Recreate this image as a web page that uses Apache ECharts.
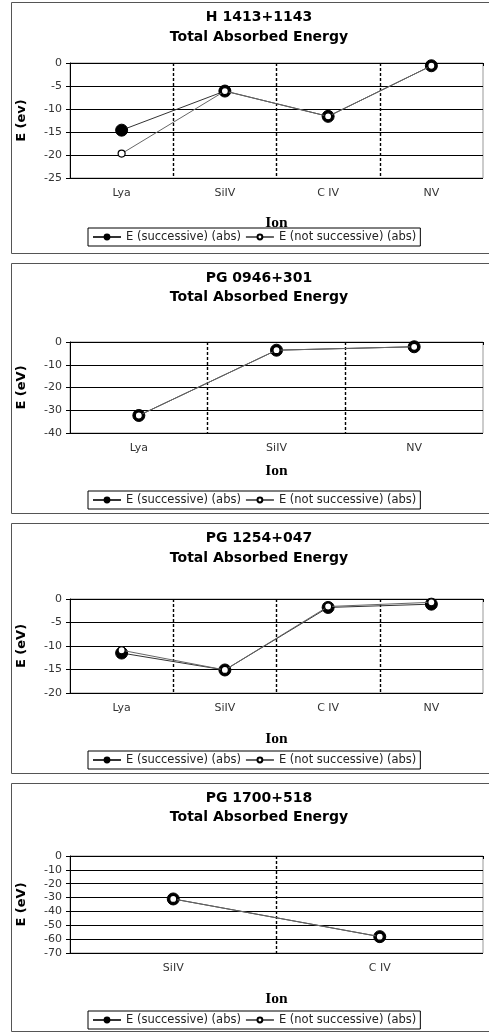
<!DOCTYPE html>
<html>
<head>
<meta charset="utf-8">
<script src="https://cdn.jsdelivr.net/npm/echarts@6/dist/echarts.min.js"></script>
<style>html,body{margin:0;padding:0;background:#fff;}#c{width:489px;height:1035px;}</style>
</head>
<body>
<div id="c"></div>
<script>
// ---- data ----
const seriesNames = ['E (successive) (abs)', 'E (not successive) (abs)'];

const title1 = 'H 1413+1143';
const ions1 = ['Lya', 'SiIV', 'C IV', 'NV'];
const succ1 = [-14.6, -6.1, -11.6, -0.6];
const notSucc1 = [-19.7, -6.1, -11.6, -0.6];
const yTicks1 = {min: -25, max: 0, interval: 5};

const title2 = 'PG 0946+301';
const ions2 = ['Lya', 'SiIV', 'NV'];
const succ2 = [-32.3, -3.6, -2.1];
const notSucc2 = [-32.3, -3.6, -2.1];
const yTicks2 = {min: -40, max: 0, interval: 10};

const title3 = 'PG 1254+047';
const ions3 = ['Lya', 'SiIV', 'C IV', 'NV'];
const succ3 = [-11.5, -15.1, -1.8, -1.1];
const notSucc3 = [-10.9, -15.1, -1.6, -0.7];
const yTicks3 = {min: -20, max: 0, interval: 5};

const title4 = 'PG 1700+518';
const ions4 = ['SiIV', 'C IV'];
const succ4 = [-31.0, -58.2];
const notSucc4 = [-31.0, -58.2];
const yTicks4 = {min: -70, max: 0, interval: 10};

const subTitle = 'Total Absorbed Energy';
const xName = 'Ion';
const yNames = ['E (ev)', 'E (eV)', 'E (eV)', 'E (eV)'];

// ---- layout ----
const panels = [
  {title: title1, cats: ions1, s: succ1, n: notSucc1, y: yTicks1, box: [2, 253], gridTop: 63, gridH: 115, t1: 17.5, t2: 37, legTop: 228, xGap: 37},
  {title: title2, cats: ions2, s: succ2, n: notSucc2, y: yTicks2, box: [263, 513], gridTop: 342, gridH: 91, t1: 278, t2: 297, legTop: 491, xGap: 30},
  {title: title3, cats: ions3, s: succ3, n: notSucc3, y: yTicks3, box: [523, 773], gridTop: 599, gridH: 94, t1: 538, t2: 558, legTop: 751, xGap: 38},
  {title: title4, cats: ions4, s: succ4, n: notSucc4, y: yTicks4, box: [783, 1031], gridTop: 856, gridH: 97, t1: 798, t2: 817, legTop: 1011, xGap: 38}
];

const FONT = 'DejaVu Sans';
const grids = [], xAxes = [], yAxes = [], series = [], legends = [], graphics = [];

panels.forEach((p, i) => {
  graphics.push({type: 'rect', z: -1, shape: {x: 11.5, y: p.box[0] + 0.5, width: 520, height: p.box[1] - p.box[0]},
    style: {fill: '#fff', stroke: '#555', lineWidth: 1}});
  graphics.push({type: 'text', x: 259, y: p.t1, style: {text: p.title, textAlign: 'center', textVerticalAlign: 'middle',
    font: 'bold 14px "' + FONT + '"', fill: '#000'}});
  graphics.push({type: 'text', x: 259, y: p.t2, style: {text: subTitle, textAlign: 'center', textVerticalAlign: 'middle',
    font: 'bold 14px "' + FONT + '"', fill: '#000'}});

  grids.push({left: 70, right: 6, top: p.gridTop, height: p.gridH, show: true, borderColor: '#999', borderWidth: 1, backgroundColor: 'transparent'});

  const nb = p.cats.length + 1;
  const vColors = [];
  for (let k = 0; k < nb; k++) vColors.push((k === nb - 1 || k === 0) ? 'rgba(0,0,0,0)' : '#000');
  xAxes.push({type: 'category', gridIndex: i, data: p.cats, boundaryGap: true,
    name: xName, nameLocation: 'middle', nameGap: p.xGap,
    nameTextStyle: {fontFamily: 'Liberation Serif', fontWeight: 'bold', fontSize: 15.5, color: '#000'},
    axisLine: {lineStyle: {color: '#000', width: 1}},
    axisTick: {show: true, length: 3, interval: 0, lineStyle: {color: '#000'}},
    axisLabel: {fontFamily: FONT, fontSize: 11, color: '#333', margin: 10, interval: 0},
    splitLine: {show: true, interval: 0, lineStyle: {color: vColors, type: [3, 2], width: 1.4}}
  });

  const nt = Math.round((p.y.max - p.y.min) / p.y.interval) + 1;
  const hColors = [];
  for (let k = 0; k < nt; k++) hColors.push(k === nt - 1 ? '#999' : '#000');
  yAxes.push({type: 'value', gridIndex: i, min: p.y.min, max: p.y.max, interval: p.y.interval,
    name: yNames[i], nameLocation: 'middle', nameGap: 42, nameRotate: 90,
    nameTextStyle: {fontFamily: FONT, fontWeight: 'bold', fontSize: 13, color: '#000'},
    axisLine: {show: true, lineStyle: {color: '#000', width: 1}},
    axisTick: {show: true, length: 4, lineStyle: {color: '#000'}},
    axisLabel: {fontFamily: FONT, fontSize: 11, color: '#333', margin: 8},
    splitLine: {show: true, lineStyle: {color: hColors, width: 1}}
  });

  series.push({name: seriesNames[0], type: 'line', xAxisIndex: i, yAxisIndex: i, data: p.s,
    symbol: 'circle', symbolSize: 12, z: 3,
    lineStyle: {color: '#333', width: 1},
    itemStyle: {color: '#000', borderColor: '#000', borderWidth: 1},
    emphasis: {disabled: true}, animation: false});
  series.push({name: seriesNames[1], type: 'line', xAxisIndex: i, yAxisIndex: i, data: p.n,
    symbol: 'circle', symbolSize: 7, z: 4,
    lineStyle: {color: '#666', width: 1},
    itemStyle: {color: '#fff', borderColor: '#000', borderWidth: 1.2},
    emphasis: {disabled: true}, animation: false});

  legends.push({data: seriesNames, left: 88, top: p.legTop, orient: 'horizontal',
    itemWidth: 28, itemHeight: 6, itemGap: 4, padding: [3, 4],
    borderColor: '#000', borderWidth: 1, backgroundColor: '#fff',
    selectedMode: false,
    textStyle: {fontFamily: FONT, fontSize: 11.5, color: '#222'}});
});

const chart = echarts.init(document.getElementById('c'), null, {renderer: 'canvas'});
chart.setOption({
  backgroundColor: '#fff',
  animation: false,
  graphic: graphics,
  grid: grids,
  xAxis: xAxes,
  yAxis: yAxes,
  legend: legends,
  series: series
});
</script>
</body>
</html>
